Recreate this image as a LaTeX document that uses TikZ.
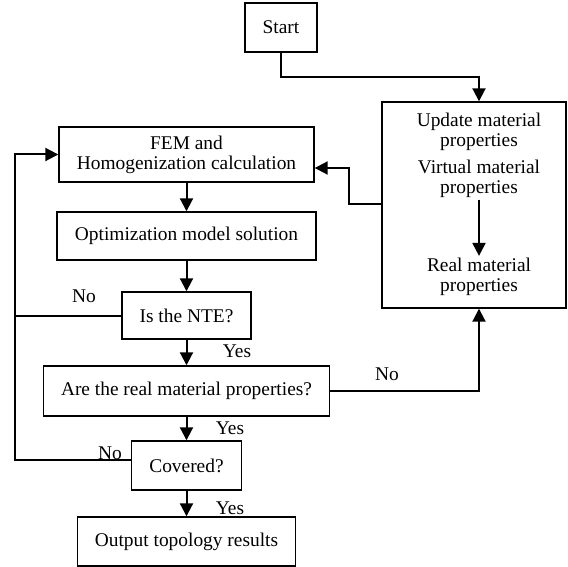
\documentclass[tikz,border=0pt]{standalone}
\usepackage{fontspec}
\setmainfont{Liberation Serif}
\usetikzlibrary{arrows.meta}

\begin{document}
\begin{tikzpicture}[x=0.5pt, y=-0.5pt, line join=miter,
  font=\fontsize{9.7}{9.9}\selectfont,
  box/.style={draw, line width=0.7pt, inner sep=0pt, align=center},
  txt/.style={inner sep=1pt, align=center},
  arr/.style={line width=1pt, -{Triangle[length=6.5pt,width=6.5pt]}},
  link/.style={line width=1pt}]
\useasboundingbox (0,0) rectangle (568,567);

% === Boxes of the main column ===
\node[box, minimum width=36pt, minimum height=24.5pt] (start) at (281,27.5) {Start};
\node[box, minimum width=127.5pt, minimum height=27.5pt] (fem) at (186.5,154.5) {FEM and\\Homogenization calculation};
\node[box, minimum width=129.5pt, minimum height=24pt] (opt) at (186.5,236) {Optimization model solution};
\node[box, minimum width=64.5pt, minimum height=23.5pt] (nte) at (186.5,315.5) {Is the NTE?};
\node[box, minimum width=143pt, minimum height=25pt] (realq) at (186.5,391) {Are the real material properties?};
\node[box, minimum width=55pt, minimum height=24.5pt] (cov) at (186.5,465.5) {Covered?};
\node[box, minimum width=109pt, minimum height=24.5pt] (out) at (186.5,541.5) {Output topology results};

% === Material box on the right ===
\node[box, minimum width=92pt, minimum height=103pt] (upd) at (474,205) {};
\node[txt] (updtxt) at (479,132) {Update material\\properties};
\node[txt] (virt) at (479,178.5) {Virtual material\\properties};
\node[txt] (real) at (479,277) {Real material\\properties};
\draw[arr] (virt) -- (real);

% === Answers ===
\node (noNte) at (84,296) {No};
\node (yesNte) at (237,351) {Yes};
\node (noReal) at (387,374) {No};
\node (yesReal) at (230,428) {Yes};
\node (noCov) at (110,453) {No};
\node (yesCov) at (230,508) {Yes};

% === Connectors ===
\coordinate (s1) at (479,77);
\draw[arr] (start.south) |- (s1) -- (s1 |- upd.north);

\coordinate (f1) at (349,204);
\coordinate (f2) at (349,168);
\draw[arr] (upd.west |- f1) -- (f1) -- (f2) -- (f2 -| fem.east);

\draw[arr] (fem) -- (opt);
\draw[arr] (opt) -- (nte);
\draw[arr] (nte) -- (realq);
\draw[arr] (realq) -- (cov);
\draw[arr] (cov) -- (out);

\draw[arr] (realq.east) -| (upd.south -| updtxt);

\coordinate (l1) at (15,460);
\draw[arr] (l1 -| cov.west) -- (l1) |- (fem.west);
\draw[link] (nte.west) -- (nte.west -| l1);
\end{tikzpicture}
\end{document}
